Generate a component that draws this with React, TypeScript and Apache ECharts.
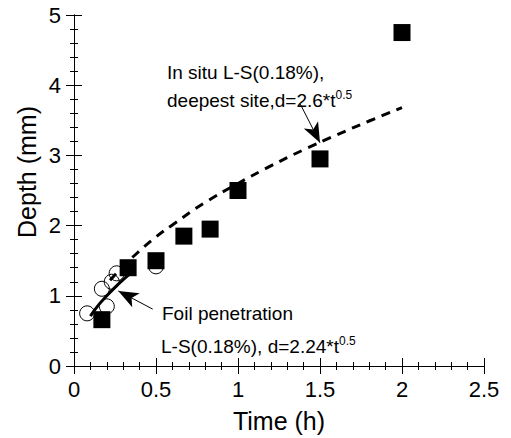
import React, { useEffect, useRef } from "react";
import * as echarts from "echarts";

const xTicks = [0, 0.5, 1, 1.5, 2, 2.5];
const yTicks = [0, 1, 2, 3, 4, 5];

// In situ (deepest site) measurements: filled squares
const squareT = [0.17, 0.33, 0.5, 0.67, 0.83, 1.0, 1.5, 2.0];
const squareD = [0.66, 1.4, 1.5, 1.85, 1.95, 2.5, 2.95, 4.75];

// Foil penetration measurements: open circles
const circleT = [0.08, 0.2, 0.17, 0.23, 0.26, 0.5];
const circleD = [0.75, 0.85, 1.1, 1.2, 1.32, 1.42];

// Fit d = 2.24*t^0.5 (solid)
const fitFoilT = [0.1, 0.15, 0.2, 0.25, 0.3, 0.35];
const fitFoilD = [0.71, 0.87, 1.0, 1.12, 1.23, 1.33];

// Fit d = 2.6*t^0.5 (dashed)
const fitSiteT = [0.22, 0.3, 0.4, 0.5, 0.6, 0.8, 1.0, 1.2, 1.4, 1.6, 1.8, 2.0];
const fitSiteD = [1.22, 1.42, 1.64, 1.84, 2.01, 2.33, 2.6, 2.85, 3.08, 3.29, 3.49, 3.68];

const FONT = "Liberation Sans, Arial, Helvetica, sans-serif";

export default function App() {
  const ref = useRef<HTMLDivElement>(null);
  useEffect(() => {
    if (!ref.current) return;
    const chart = echarts.init(ref.current, null, { renderer: "svg" });
    const zip = (a: number[], b: number[]) => a.map((v, i) => [v, b[i]]);
    const axisCommon = {
      axisLine: { show: true, lineStyle: { color: "#000", width: 1 } },
      axisTick: { show: true, inside: true, length: 8, lineStyle: { color: "#000" } },
      minorTick: { show: true, splitNumber: 5, length: 4, lineStyle: { color: "#000" } },
      splitLine: { show: false },
    };
    chart.setOption({
      animation: false,
      backgroundColor: "#fff",
      grid: { left: 74, right: 27, top: 15, bottom: 67, containLabel: false },
      xAxis: [
        {
          type: "value",
          min: xTicks[0],
          max: xTicks[xTicks.length - 1],
          interval: 0.5,
          ...axisCommon,
          axisLabel: {
            color: "#000",
            fontSize: 22,
            fontFamily: FONT,
            margin: 12,
            formatter: (v: number) => String(v),
          },
          name: "Time (h)",
          nameLocation: "middle",
          nameGap: 42,
          nameTextStyle: { color: "#000", fontSize: 25, fontFamily: FONT },
        },
        {
          type: "value",
          position: "top",
          min: xTicks[0],
          max: xTicks[xTicks.length - 1],
          interval: 0.5,
          ...axisCommon,
          axisLabel: { show: false },
        },
      ],
      yAxis: [
        {
          type: "value",
          min: yTicks[0],
          max: yTicks[yTicks.length - 1],
          interval: 1,
          ...axisCommon,
          axisLabel: { color: "#000", fontSize: 22, fontFamily: FONT, margin: 13 },
        },
        {
          type: "value",
          position: "right",
          min: yTicks[0],
          max: yTicks[yTicks.length - 1],
          interval: 1,
          ...axisCommon,
          axisLabel: { show: false },
        },
      ],
      graphic: [
        {
          type: "text",
          x: 27,
          y: 172,
          rotation: Math.PI / 2,
          style: {
            text: "Depth (mm)",
            font: `25px ${FONT}`,
            fill: "#000",
            align: "center",
            verticalAlign: "middle",
          },
        },
        {
          type: "text",
          x: 167,
          y: 72,
          style: {
            text: "In situ L-S(0.18%),",
            font: `19px ${FONT}`,
            fill: "#000",
            verticalAlign: "middle",
          },
        },
        {
          type: "text",
          x: 167,
          y: 100,
          style: {
            text: "deepest site,d=2.6*t{sup|0.5}",
            font: `19px ${FONT}`,
            fill: "#000",
            verticalAlign: "middle",
            rich: {
              sup: { fontSize: 12, fontFamily: FONT, verticalAlign: "top", lineHeight: 22 },
            },
          },
        },
        {
          type: "text",
          x: 162,
          y: 313,
          style: {
            text: "Foil penetration",
            font: `19px ${FONT}`,
            fill: "#000",
            verticalAlign: "middle",
          },
        },
        {
          type: "text",
          x: 161,
          y: 346,
          style: {
            text: "L-S(0.18%), d=2.24*t{sup|0.5}",
            font: `19px ${FONT}`,
            fill: "#000",
            verticalAlign: "middle",
            rich: {
              sup: { fontSize: 12, fontFamily: FONT, verticalAlign: "top", lineHeight: 22 },
            },
          },
        },
      ],
      series: [
        {
          type: "scatter",
          name: "foil",
          data: zip(circleT, circleD),
          symbol: "circle",
          symbolSize: 15,
          itemStyle: { color: "rgba(255,255,255,0)", borderColor: "#000", borderWidth: 1, opacity: 1 },
          z: 2,
        },
        {
          type: "line",
          name: "fitFoil",
          data: zip(fitFoilT, fitFoilD),
          showSymbol: false,
          smooth: true,
          lineStyle: { color: "#000", width: 3, type: "solid" },
          z: 3,
          markLine: {
            silent: true,
            symbol: ["none", "arrow"],
            symbolSize: [12, 20],
            lineStyle: { color: "#000", width: 1, type: "solid" },
            label: { show: false },
            data: [[{ coord: [0.48, 0.81] }, { coord: [0.27, 1.07] }]],
          },
        },
        {
          type: "line",
          name: "fitSite",
          data: zip(fitSiteT, fitSiteD),
          showSymbol: false,
          smooth: true,
          lineStyle: { color: "#000", width: 3, type: [9, 7] },
          z: 3,
          markLine: {
            silent: true,
            symbol: ["none", "arrow"],
            symbolSize: [12, 20],
            lineStyle: { color: "#000", width: 1, type: "solid" },
            label: { show: false },
            data: [[{ coord: [1.38, 3.73] }, { coord: [1.5, 3.18] }]],
          },
        },
        {
          type: "scatter",
          name: "site",
          data: zip(squareT, squareD),
          symbol: "rect",
          symbolSize: 17,
          itemStyle: { color: "#000", opacity: 1 },
          z: 4,
        },
      ],
    });
    return () => chart.dispose();
  }, []);
  return (
    <div
      ref={ref}
      style={{ position: "absolute", left: 0, top: 0, width: 511, height: 438 }}
    />
  );
}
